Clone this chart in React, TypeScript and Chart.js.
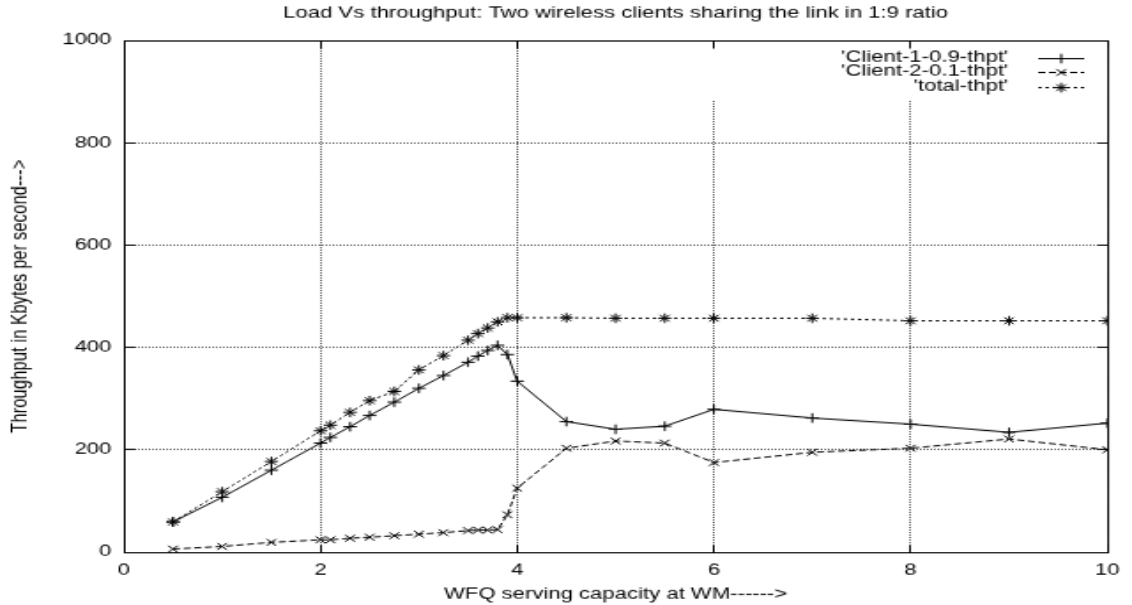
import React, { useEffect, useRef } from 'react';
import { Chart, registerables } from 'chart.js';

Chart.register(...registerables);

// ---- data ----
const loadCapacity = [0.5, 1, 1.5, 2, 2.1, 2.3, 2.5, 2.75, 3, 3.25, 3.5, 3.6, 3.7, 3.8, 3.9, 4, 4.5, 5, 5.5, 6, 7, 8, 9, 10];
const client1Thpt = [59, 107, 160, 213, 224, 245, 267, 293, 320, 345, 371, 383, 394, 404, 386, 334, 255, 240, 246, 279, 262, 250, 234, 252];
const client2Thpt = [6, 11, 19, 24, 24, 27, 29, 32, 35, 38, 42, 43, 43, 44, 73, 125, 203, 217, 213, 175, 195, 203, 221, 200];
const totalThpt = [59, 118, 177, 237, 248, 273, 296, 314, 356, 384, 414, 427, 438, 450, 458, 458, 458, 457, 457, 457, 457, 452, 452, 452];

const xTickValues = [0, 2, 4, 6, 8, 10];
const yTickValues = [0, 200, 400, 600, 800, 1000];

const seriesLabels = ["'Client-1-0.9-thpt'", "'Client-2-0.1-thpt'", "'total-thpt'"];
const chartTitle = 'Load Vs throughput: Two wireless clients sharing the link in 1:9 ratio';
const xAxisTitle = 'WFQ serving capacity at WM------>';
const yAxisTitle = 'Throughput in Kbytes per second--->';

// ---- drawing surface (original plot resolution, stretched to the page) ----
const CANVAS_W = 640;
const CANVAS_H = 480;
const FONT = "'Liberation Sans', Arial, Helvetica, sans-serif";
const TICK_LEN = 6;
const MARKER_R = 3.8;

function markerPath(ctx: CanvasRenderingContext2D, style: string, x: number, y: number, r: number) {
  ctx.beginPath();
  if (style === 'cross' || style === 'star') {
    ctx.moveTo(x - r, y);
    ctx.lineTo(x + r, y);
    ctx.moveTo(x, y - r);
    ctx.lineTo(x, y + r);
  }
  if (style === 'crossRot' || style === 'star') {
    const d = r * Math.SQRT1_2;
    ctx.moveTo(x - d, y - d);
    ctx.lineTo(x + d, y + d);
    ctx.moveTo(x - d, y + d);
    ctx.lineTo(x + d, y - d);
  }
  ctx.stroke();
}

const gnuplotFrame = {
  id: 'gnuplotFrame',
  beforeDatasetsDraw(chart: any) {
    // key area: grid is not drawn behind the key
    const { ctx, chartArea } = chart;
    ctx.save();
    ctx.fillStyle = '#ffffff';
    ctx.fillRect(380, chartArea.top + 1, chartArea.right - 380, 47);
    ctx.restore();
  },
  afterDatasetsDraw(chart: any) {
    const { ctx, chartArea, scales } = chart;
    const { left, right, top, bottom } = chartArea;
    ctx.save();
    ctx.strokeStyle = '#000';
    ctx.lineWidth = 1;
    ctx.setLineDash([]);
    // border
    ctx.strokeRect(left + 0.5, top + 0.5, right - left, bottom - top);
    // inward ticks on all four sides
    ctx.beginPath();
    xTickValues.forEach((v) => {
      const px = Math.round(scales.x.getPixelForValue(v) - 0.5) + 0.5;
      ctx.moveTo(px, bottom + 0.5);
      ctx.lineTo(px, bottom + 0.5 - TICK_LEN);
      ctx.moveTo(px, top + 0.5);
      ctx.lineTo(px, top + 0.5 + TICK_LEN);
    });
    yTickValues.forEach((v) => {
      const py = Math.round(scales.y.getPixelForValue(v) - 0.5) + 0.5;
      ctx.moveTo(left + 0.5, py);
      ctx.lineTo(left + 0.5 + TICK_LEN, py);
      ctx.moveTo(right + 0.5, py);
      ctx.lineTo(right + 0.5 - TICK_LEN, py);
    });
    ctx.stroke();

    // key (legend), gnuplot style: text right-aligned, sample on the right
    const textRight = 570;
    const sampleL = 587;
    const sampleR = 613;
    ctx.font = `12.5px ${FONT}`;
    ctx.fillStyle = '#000';
    ctx.textAlign = 'right';
    ctx.textBaseline = 'middle';
    chart.data.datasets.forEach((ds: any, i: number) => {
      const y = top + 13.5 + i * 11.5;
      ctx.fillText(ds.label, textRight, y);
      ctx.setLineDash(ds.borderDash || []);
      ctx.beginPath();
      ctx.moveTo(sampleL, Math.round(y) + 0.5);
      ctx.lineTo(sampleR, Math.round(y) + 0.5);
      ctx.stroke();
      ctx.setLineDash([]);
      markerPath(ctx, ds.pointStyle, (sampleL + sampleR) / 2, Math.round(y) + 0.5, ds.pointRadius);
    });
    ctx.restore();
  },
};

function toPoints(ys: number[]) {
  return loadCapacity.map((x, i) => ({ x, y: ys[i] }));
}

function seriesStyle(dash: number[], pointStyle: string) {
  return {
    borderColor: '#000',
    backgroundColor: '#000',
    borderWidth: 1,
    borderDash: dash,
    pointStyle,
    pointRadius: MARKER_R,
    pointHoverRadius: MARKER_R,
    pointBorderWidth: 1,
    pointBorderColor: '#000',
    pointBackgroundColor: '#000',
    tension: 0,
    fill: false,
  };
}

export default function App() {
  const canvasRef = useRef<HTMLCanvasElement | null>(null);

  useEffect(() => {
    const canvas = canvasRef.current;
    if (!canvas) return;
    const chart = new Chart(canvas, {
      type: 'line',
      data: {
        datasets: [
          { label: seriesLabels[0], data: toPoints(client1Thpt), ...seriesStyle([], 'cross') },
          { label: seriesLabels[1], data: toPoints(client2Thpt), ...seriesStyle([4, 2], 'crossRot') },
          { label: seriesLabels[2], data: toPoints(totalThpt), ...seriesStyle([2, 2], 'star') },
        ] as any,
      },
      options: {
        animation: false,
        responsive: false,
        devicePixelRatio: 1,
        events: [],
        layout: { padding: 0 },
        plugins: {
          legend: { display: false },
          tooltip: { enabled: false },
          title: {
            display: true,
            text: chartTitle,
            fullSize: false,
            color: '#000',
            font: { family: FONT, size: 12.5, weight: 'normal' },
            padding: { top: 3, bottom: 14 },
          },
        },
        scales: {
          x: {
            type: 'linear',
            position: 'bottom',
            min: 0,
            max: 10,
            afterBuildTicks: (s: any) => {
              s.ticks = xTickValues.map((value) => ({ value }));
            },
            afterFit: (s: any) => {
              s.height = 42;
            },
            ticks: {
              color: '#000',
              font: { family: FONT, size: 12.5 },
              padding: 7,
              maxRotation: 0,
              autoSkip: false,
              callback: (v: any) => String(v),
            },
            grid: { color: '#555', lineWidth: 1, drawTicks: false },
            border: { display: false, dash: [1, 1] },
            title: {
              display: true,
              text: xAxisTitle,
              color: '#000',
              font: { family: FONT, size: 12.5 },
              padding: { top: 0, bottom: 1 },
            },
          },
          y: {
            type: 'linear',
            position: 'left',
            min: 0,
            max: 1000,
            afterBuildTicks: (s: any) => {
              s.ticks = yTickValues.map((value) => ({ value }));
            },
            afterFit: (s: any) => {
              s.width = 70;
            },
            ticks: {
              color: '#000',
              font: { family: FONT, size: 12.5 },
              padding: 7,
              autoSkip: false,
              callback: (v: any) => String(v),
            },
            grid: { color: '#555', lineWidth: 1, drawTicks: false },
            border: { display: false, dash: [1, 1] },
            title: {
              display: true,
              text: yAxisTitle,
              color: '#000',
              font: { family: FONT, size: 13.3 },
              padding: { top: 3.5, bottom: 0 },
            },
          },
          rightMargin: {
            type: 'linear',
            position: 'right',
            display: true,
            afterFit: (s: any) => {
              s.width = 10;
            },
            ticks: { display: false },
            grid: { display: false, drawTicks: false },
            border: { display: false },
          },
        },
      } as any,
      plugins: [gnuplotFrame],
    });
    return () => chart.destroy();
  }, []);

  return (
    <div style={{ position: 'fixed', left: 0, top: 0, width: 1132, height: 605, background: '#fff' }}>
      <canvas
        ref={canvasRef}
        width={CANVAS_W}
        height={CANVAS_H}
        style={{ width: '1132px', height: '605px', display: 'block' }}
      />
    </div>
  );
}
